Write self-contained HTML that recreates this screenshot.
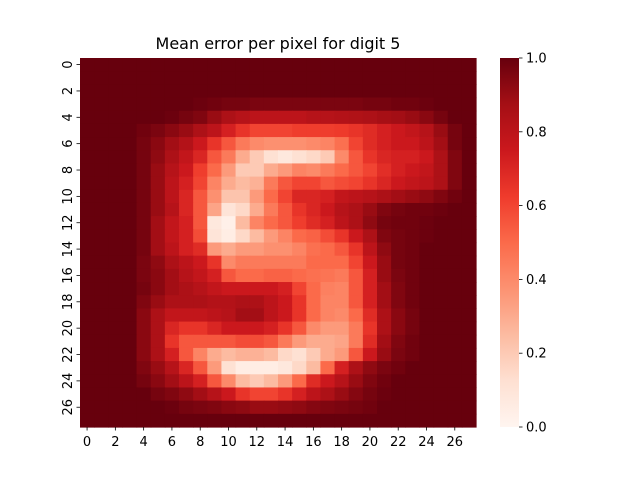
<!DOCTYPE html>
<html><head><meta charset="utf-8"><style>
body{margin:0;background:#fff}
svg{display:block;font-family:"DejaVu Sans","Liberation Sans",sans-serif}
</style></head><body>
<svg id="chart" width="640" height="480">
<defs><linearGradient id="cbg" x1="0" y1="1" x2="0" y2="0">
<stop offset="0" stop-color="#fff5f0"/><stop offset="0.125" stop-color="#fee0d2"/><stop offset="0.25" stop-color="#fcbba1"/><stop offset="0.375" stop-color="#fc9272"/><stop offset="0.5" stop-color="#fb6a4a"/><stop offset="0.625" stop-color="#ef3b2c"/><stop offset="0.75" stop-color="#cb181d"/><stop offset="0.875" stop-color="#a50f15"/><stop offset="1" stop-color="#67000d"/>
</linearGradient></defs>
<text x="278" y="49" font-size="16" text-anchor="middle">Mean error per pixel for digit 5</text>
<g id="cells"></g>
<g id="xt"></g>
<g id="yt"></g>
<rect x="500" y="58" width="19" height="369" fill="url(#cbg)"/>
<g id="cb"></g>
</svg>
<script>
const rowsIdx=[...Array(28).keys()];
const colsIdx=[...Array(28).keys()];
const cbTicks=[0,0.2,0.4,0.6,0.8,1.0];
const cbLabels=["0.0","0.2","0.4","0.6","0.8","1.0"];
const O=Array(28).fill(1);
const values=[
O,O,O,
[1,1,1,1,1,1,1,1,.99,.98,.97,.97,.96,.96,.96,.96,.96,.96,.96,.96,.97,.97,.98,.98,.99,1,1,1],
[1,1,1,1,1,1,.99,.97,.95,.9,.85,.82,.8,.8,.8,.8,.82,.82,.83,.84,.85,.87,.88,.9,.93,.97,1,1],
[1,1,1,1,.98,.96,.93,.9,.85,.8,.72,.65,.6,.6,.6,.62,.62,.62,.63,.65,.68,.72,.75,.78,.82,.9,.97,1],
[1,1,1,1,.97,.93,.88,.83,.75,.65,.55,.45,.4,.38,.38,.38,.4,.42,.48,.6,.68,.72,.75,.75,.8,.88,.97,1],
[1,1,1,1,.97,.92,.85,.78,.7,.55,.45,.3,.2,.12,.08,.12,.15,.2,.4,.55,.65,.7,.72,.72,.75,.85,.95,1],
[1,1,1,1,.97,.9,.82,.75,.62,.5,.35,.2,.2,.3,.35,.42,.4,.45,.5,.55,.6,.67,.72,.75,.78,.85,.95,1],
[1,1,1,1,.97,.9,.8,.72,.6,.42,.3,.25,.28,.45,.55,.6,.6,.55,.58,.6,.65,.7,.75,.78,.8,.85,.95,1],
[1,1,1,1,.97,.9,.8,.7,.55,.38,.22,.22,.35,.5,.6,.7,.7,.72,.78,.8,.82,.85,.88,.9,.92,.95,.98,1],
[1,1,1,1,.97,.9,.82,.7,.55,.32,.1,.15,.3,.45,.55,.65,.7,.75,.82,.85,.9,.95,.97,.98,.98,.99,1,1],
[1,1,1,1,.97,.88,.78,.72,.55,.08,.03,.25,.42,.5,.55,.62,.68,.72,.8,.85,.92,.97,.98,.98,.99,1,1,1],
[1,1,1,1,.97,.88,.78,.72,.58,.1,.05,.15,.25,.35,.42,.5,.52,.58,.65,.75,.85,.95,.97,.98,.99,1,1,1],
[1,1,1,1,.97,.88,.8,.72,.68,.35,.3,.35,.35,.38,.38,.42,.48,.5,.55,.65,.8,.92,.97,.98,1,1,1,1],
[1,1,1,1,.96,.92,.85,.8,.75,.65,.4,.45,.45,.45,.45,.45,.5,.5,.5,.6,.75,.9,.97,.98,1,1,1,1],
[1,1,1,1,.96,.93,.88,.82,.78,.72,.55,.5,.5,.52,.52,.5,.48,.47,.45,.55,.72,.9,.96,.98,1,1,1,1],
[1,1,1,1,.97,.93,.88,.85,.82,.78,.75,.75,.75,.75,.72,.6,.5,.43,.42,.55,.72,.88,.95,.98,1,1,1,1],
[1,1,1,1,.95,.9,.85,.85,.85,.83,.83,.85,.85,.8,.75,.65,.5,.42,.42,.55,.72,.88,.95,.98,1,1,1,1],
[1,1,1,1,.93,.85,.78,.78,.78,.8,.82,.88,.88,.8,.75,.65,.5,.42,.4,.5,.68,.85,.93,.97,1,1,1,1],
[1,1,1,1,.93,.85,.7,.65,.65,.7,.75,.75,.75,.72,.65,.55,.4,.35,.35,.45,.65,.85,.93,.97,1,1,1,1],
[1,1,1,1,.93,.85,.65,.55,.55,.55,.55,.58,.58,.55,.45,.35,.3,.3,.32,.45,.68,.88,.95,.98,1,1,1,1],
[1,1,1,1,.93,.85,.72,.55,.42,.3,.25,.28,.28,.25,.15,.12,.2,.3,.35,.55,.75,.9,.96,.98,1,1,1,1],
[1,1,1,1,.95,.9,.82,.7,.55,.35,.12,.05,.05,.05,.08,.15,.25,.5,.72,.85,.92,.96,.98,1,1,1,1,1],
[1,1,1,1,.97,.93,.88,.8,.72,.55,.4,.25,.2,.25,.35,.5,.68,.75,.82,.9,.95,.98,1,1,1,1,1,1],
[1,1,1,1,1,.97,.95,.92,.88,.82,.75,.65,.6,.6,.65,.72,.8,.85,.9,.94,.97,.99,1,1,1,1,1,1],
[1,1,1,1,1,1,.99,.97,.96,.95,.93,.92,.9,.9,.91,.92,.94,.95,.96,.97,.98,1,1,1,1,1,1,1],
O
];
const NS="http://www.w3.org/2000/svg";
const X0=80,X1=476,Y0=58,Y1=427;
const cw=(X1-X0)/28,ch=(Y1-Y0)/28;
const xs=c=>X0+c*cw, ys=r=>Y0+r*ch;
const stops=[[255,245,240],[254,224,210],[252,187,161],[252,146,114],[251,106,74],[239,59,44],[203,24,29],[165,15,21],[103,0,13]];
function color(v){v=Math.max(0,Math.min(1,v));const p=v*8,i=Math.min(7,Math.floor(p)),f=p-i;const a=stops[i],b=stops[i+1];return `rgb(${a.map((x,k)=>Math.round(x+(b[k]-x)*f)).join(",")})`;}
function mk(t,at,parent){const e=document.createElementNS(NS,t);for(const k in at)e.setAttribute(k,at[k]);parent.appendChild(e);return e;}
const cells=document.getElementById("cells");
rowsIdx.forEach(r=>colsIdx.forEach(c=>{
 const e=mk("rect",{x:xs(c),y:ys(r),width:cw+0.6,height:ch+0.6,fill:color(values[r][c])},cells);
 
 
}));
const xt=document.getElementById("xt"),yt=document.getElementById("yt");
colsIdx.filter(c=>c%2===0).forEach(c=>{
 const x=xs(c)+cw/2;
 mk("line",{x1:x,x2:x,y1:Y1,y2:Y1+3.5,stroke:"#000","stroke-width":0.8},xt);
 const t=mk("text",{x:x,y:Y1+19,"font-size":13,"text-anchor":"middle"},xt);t.textContent=c;
 
 
});
rowsIdx.filter(r=>r%2===0).forEach(r=>{
 const y=ys(r)+ch/2;
 mk("line",{x1:X0-3.5,x2:X0,y1:y,y2:y,stroke:"#000","stroke-width":0.8},yt);
 const t=mk("text",{x:0,y:0,"font-size":13,"text-anchor":"middle",transform:`translate(${X0-8},${y}) rotate(-90)`},yt);t.textContent=r;
 
 
});
const cb=document.getElementById("cb");
cbTicks.forEach((v,i)=>{
 const y=Y1-v*(Y1-Y0);
 mk("line",{x1:519,x2:522.5,y1:y,y2:y,stroke:"#000","stroke-width":0.8},cb);
 const t=mk("text",{x:526,y:y+4.5,"font-size":13},cb);t.textContent=cbLabels[i];
 
 
});
</script>
</body></html>
